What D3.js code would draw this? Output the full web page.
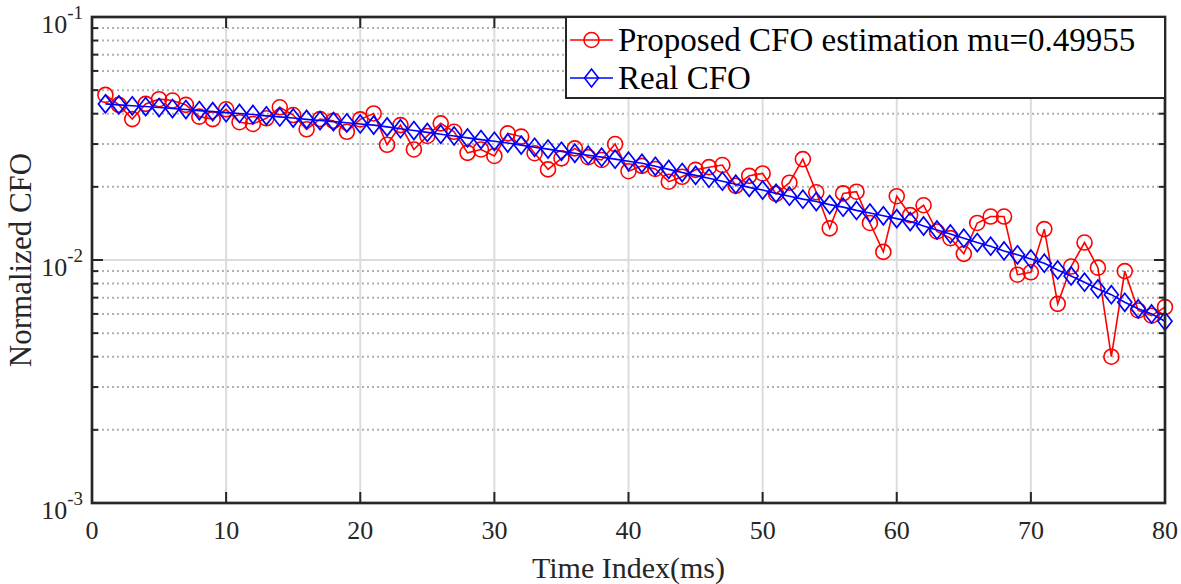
<!DOCTYPE html>
<html>
<head>
<meta charset="utf-8">
<script src="https://cdn.jsdelivr.net/npm/d3@7"></script>
<style>
html,body{margin:0;padding:0;background:#fff;}
svg{display:block;font-family:"Liberation Serif","Times New Roman",serif;}
</style>
</head>
<body>
<svg id="chart" width="1181" height="584"></svg>
<script>
// ---- data ----
const timeIndex = d3.range(1, 81);
const proposedCFO = [
  0.0478, 0.0435, 0.0380, 0.0439, 0.0459, 0.0453, 0.0435, 0.0389, 0.0380, 0.0417,
  0.0369, 0.0363, 0.0383, 0.0425, 0.0395, 0.0345, 0.0380, 0.0374, 0.0337, 0.0379,
  0.0401, 0.0298, 0.0359, 0.0285, 0.0324, 0.0365, 0.0337, 0.0276, 0.0285, 0.0268,
  0.0332, 0.0322, 0.0275, 0.0236, 0.0262, 0.0288, 0.0265, 0.0258, 0.0300, 0.0232,
  0.0244, 0.0237, 0.0210, 0.0220, 0.0235, 0.0241, 0.0246, 0.0202, 0.0222, 0.0227,
  0.0187, 0.0208, 0.0260, 0.0190, 0.0135, 0.0188, 0.0191, 0.0142, 0.0108, 0.0183,
  0.0153, 0.0168, 0.0131, 0.0123, 0.0106, 0.0142, 0.0151, 0.0151, 0.0087, 0.0089,
  0.0134, 0.0066, 0.0094, 0.0118, 0.0093, 0.0040, 0.0090, 0.0062, 0.0059, 0.0064
];
const realCFO = [
  0.0439, 0.0435, 0.0431, 0.0428, 0.0424, 0.0420, 0.0416, 0.0412, 0.0408, 0.0404,
  0.0401, 0.0397, 0.0392, 0.0388, 0.0384, 0.0379, 0.0375, 0.0371, 0.0367, 0.0363,
  0.0359, 0.0353, 0.0347, 0.0341, 0.0335, 0.0329, 0.0324, 0.0318, 0.0313, 0.0308,
  0.0303, 0.0297, 0.0291, 0.0286, 0.0280, 0.0275, 0.0270, 0.0265, 0.0260, 0.0255,
  0.0250, 0.0243, 0.0236, 0.0229, 0.0223, 0.0217, 0.0211, 0.0205, 0.0199, 0.0194,
  0.0188, 0.0183, 0.0178, 0.0174, 0.0169, 0.0165, 0.0160, 0.0156, 0.0152, 0.0148,
  0.0144, 0.0138, 0.0133, 0.0128, 0.0123, 0.0118, 0.0114, 0.0109, 0.0105, 0.0101,
  0.0097, 0.0091, 0.0086, 0.0081, 0.0076, 0.0072, 0.0067, 0.0063, 0.0060, 0.0056
];
const xTicks = [0, 10, 20, 30, 40, 50, 60, 70, 80];
const yMajorTicks = [1e-3, 1e-2, 1e-1];
const yTickExponents = ["-3", "-2", "-1"];
const seriesNames = ["Proposed CFO estimation mu=0.49955", "Real CFO"];
const xLabel = "Time Index(ms)";
const yLabel = "Normalized CFO";

// ---- layout ----
const L = 92, R = 1165, T = 17, B = 503;
const svg = d3.select("#chart");
const x = d3.scaleLinear().domain([0, 80]).range([L, R]);
const y = d3.scaleLog().domain([1e-3, 1e-1]).range([B, T]);

const minorTicks = [];
[1e-3, 1e-2].forEach(dec => { for (let k = 2; k <= 9; k++) minorTicks.push(dec * k); });

const grid = svg.append("g");
grid.selectAll("line.ymin").data(minorTicks).join("line")
  .attr("x1", L).attr("x2", R).attr("y1", d => y(d)).attr("y2", d => y(d))
  .attr("stroke", "#b0b0b0").attr("stroke-width", 2).attr("stroke-dasharray", "2,3");
grid.selectAll("line.ymaj").data([1e-2]).join("line")
  .attr("x1", L).attr("x2", R).attr("y1", d => y(d)).attr("y2", d => y(d))
  .attr("stroke", "#dcdcdc").attr("stroke-width", 2);
grid.selectAll("line.xg").data(xTicks.slice(1, -1)).join("line")
  .attr("x1", d => x(d)).attr("x2", d => x(d)).attr("y1", T).attr("y2", B)
  .attr("stroke", "#dcdcdc").attr("stroke-width", 2);

// ---- series ----
const ptsP = timeIndex.map((t, i) => [t, proposedCFO[i]]);
const ptsR = timeIndex.map((t, i) => [t, realCFO[i]]);
const line = d3.line().x(d => x(d[0])).y(d => y(d[1]));

svg.append("path").datum(ptsP).attr("d", line)
  .attr("fill", "none").attr("stroke", "#ff0000").attr("stroke-width", 1.6);
svg.append("g").selectAll("circle").data(ptsP).join("circle")
  .attr("cx", d => x(d[0])).attr("cy", d => y(d[1])).attr("r", 7.5)
  .attr("fill", "none").attr("stroke", "#ff0000").attr("stroke-width", 1.6);

const diamond = (cx, cy, w, h) => `M${cx},${cy - h}L${cx + w},${cy}L${cx},${cy + h}L${cx - w},${cy}Z`;
svg.append("path").datum(ptsR).attr("d", line)
  .attr("fill", "none").attr("stroke", "#0000ff").attr("stroke-width", 1.6);
svg.append("g").selectAll("path").data(ptsR).join("path")
  .attr("d", d => diamond(x(d[0]), y(d[1]), 7, 9))
  .attr("fill", "none").attr("stroke", "#0000ff").attr("stroke-width", 1.7);

// ---- axes ----
const axC = "#262626";
const ax = svg.append("g");
ax.selectAll("line.xtb").data(xTicks).join("line")
  .attr("x1", d => x(d)).attr("x2", d => x(d)).attr("y1", B).attr("y2", B - 11)
  .attr("stroke", axC).attr("stroke-width", 2);
ax.selectAll("line.xtt").data(xTicks).join("line")
  .attr("x1", d => x(d)).attr("x2", d => x(d)).attr("y1", T).attr("y2", T + 11)
  .attr("stroke", axC).attr("stroke-width", 2);
[[L, 1], [R, -1]].forEach(([x0, dir]) => {
  ax.append("g").selectAll("line").data(yMajorTicks).join("line")
    .attr("x1", x0).attr("x2", x0 + dir * 11).attr("y1", d => y(d)).attr("y2", d => y(d))
    .attr("stroke", axC).attr("stroke-width", 2);
  ax.append("g").selectAll("line").data(minorTicks).join("line")
    .attr("x1", x0).attr("x2", x0 + dir * 6).attr("y1", d => y(d)).attr("y2", d => y(d))
    .attr("stroke", axC).attr("stroke-width", 2);
});
ax.append("rect").attr("x", L).attr("y", T).attr("width", R - L).attr("height", B - T)
  .attr("fill", "none").attr("stroke", axC).attr("stroke-width", 2.7);

ax.selectAll("text.xl").data(xTicks).join("text")
  .attr("x", d => x(d)).attr("y", 539).attr("text-anchor", "middle")
  .attr("font-size", 26).attr("fill", "#262626").text(d => d);
const yl = ax.selectAll("text.yl").data(yMajorTicks).join("text")
  .attr("x", 83).attr("y", d => y(d) + 16).attr("text-anchor", "end")
  .attr("font-size", 26).attr("fill", "#262626");
yl.append("tspan").text("10");
yl.append("tspan").attr("dy", -14).attr("font-size", 19).text((d, i) => yTickExponents[i]);

svg.append("text").attr("x", (L + R) / 2).attr("y", 578).attr("text-anchor", "middle")
  .attr("font-size", 30).attr("fill", "#262626").text(xLabel);
svg.append("text").attr("transform", `translate(31,${(T + B) / 2}) rotate(-90)`)
  .attr("text-anchor", "middle").attr("font-size", 31).attr("fill", "#262626").text(yLabel);

// ---- legend ----
const lg = svg.append("g");
lg.append("rect").attr("x", 566).attr("y", 17).attr("width", 1165 - 566).attr("height", 81)
  .attr("fill", "#fff").attr("stroke", axC).attr("stroke-width", 2);
const rows = [
  {name: seriesNames[0], color: "#ff0000", mark: "circle", cy: 40},
  {name: seriesNames[1], color: "#0000ff", mark: "diamond", cy: 78}
];
rows.forEach(r => {
  lg.append("line").attr("x1", 570).attr("x2", 613).attr("y1", r.cy).attr("y2", r.cy)
    .attr("stroke", r.color).attr("stroke-width", 1.6);
  if (r.mark === "circle") {
    lg.append("circle").attr("cx", 591.5).attr("cy", r.cy).attr("r", 7.5)
      .attr("fill", "none").attr("stroke", r.color).attr("stroke-width", 1.6);
  } else {
    lg.append("path").attr("d", diamond(591.5, r.cy, 7, 9))
      .attr("fill", "none").attr("stroke", r.color).attr("stroke-width", 1.6);
  }
  lg.append("text").attr("x", 618).attr("y", r.cy + 11).attr("font-size", 33)
    .attr("fill", "#000").text(r.name);
});
</script>
</body>
</html>
